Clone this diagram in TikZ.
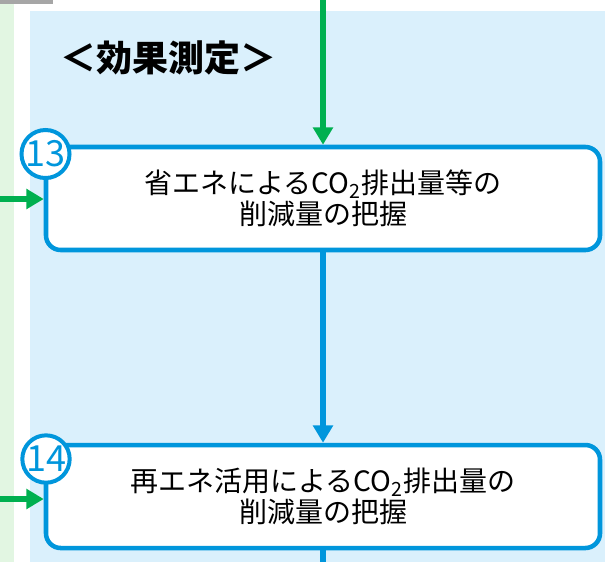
\documentclass[tikz,border=0pt]{standalone}
\usepackage{fontspec}
\setmainfont{Noto Sans CJK JP}
\usepackage{tikz}
\usetikzlibrary{arrows.meta}

\definecolor{flowblue}{RGB}{0,150,220}
\definecolor{flowgreen}{RGB}{0,176,80}
\definecolor{panelblue}{RGB}{218,240,252}
\definecolor{panelgreen}{RGB}{226,246,226}

\begin{document}
\begin{tikzpicture}[
  x=0.75pt, y=-0.75pt,
  box/.style={rectangle, draw=flowblue, fill=white, line width=3.4pt,
              rounded corners=11pt, minimum width=415.5pt,
              minimum height=77.25pt, align=center,
              font=\fontsize{21pt}{23.5pt}\selectfont},
  num/.style={circle, draw=flowblue, fill=white, line width=3pt,
              minimum size=34.5pt, inner sep=0pt, text=flowblue,
              font=\fontsize{27pt}{27pt}\selectfont},
  arrow/.style={-{Triangle[length=13pt,width=14.5pt]}, line width=4pt},
  inarrow/.style={arrow, flowgreen},
  steparrow/.style={arrow, flowblue}
]
\useasboundingbox (0,0) rectangle (605,562);

% Panels
\fill[panelgreen] (0,4) rectangle (14,562);
\fill[panelblue]  (30,11) rectangle (605,562);
\draw[gray!70, line width=2.5pt] (0,2) -- (53,2);

% Title
\node[font=\fontsize{27pt}{27pt}\selectfont\bfseries] at (168,58) (title) {＜効果測定＞};

% Steps
\node[box] at (323,198.5) (reduce)  {省エネによるCO\textsubscript{2}排出量等の\\削減量の把握};
\node[box] at (323,496.5) (renew)   {再エネ活用によるCO\textsubscript{2}排出量の\\削減量の把握};
\node[num] at (45.5,154) (n13) {13};
\node[num] at (46,459) (n14) {14};

% Ends
\coordinate (top)    at (323,0);
\coordinate (bottom) at (323,562);
\coordinate (left13) at (0,199);
\coordinate (left14) at (0,499);

% Arrows
\draw[inarrow]   (top)    -- (reduce.north);
\draw[inarrow]   (left13) -- (reduce.west |- left13);
\draw[inarrow]   (left14) -- (renew.west |- left14);
\draw[steparrow] (reduce.south) -- (renew.north);
\draw[flowblue, line width=4pt] (renew.south) -- (bottom);
\end{tikzpicture}
\end{document}
